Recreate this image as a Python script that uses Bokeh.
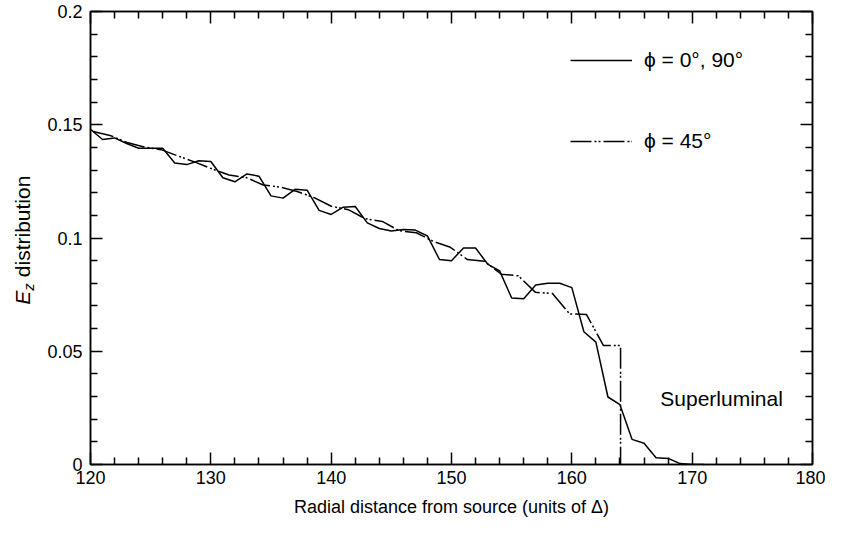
from bokeh.plotting import figure
from bokeh.layouts import row
from bokeh.models import (Range1d, LinearAxis, FixedTicker, CustomJSTickFormatter,
                          Label, Legend, LegendItem)
from bokeh.core.properties import value
from bokeh.embed import file_html
from bokeh.resources import INLINE

# ---- data ----
r_axis = [120, 121, 122, 123, 124, 125, 126, 127, 128, 129, 130, 131, 132, 133, 134,
          135, 136, 137, 138, 139, 140, 141, 142, 143, 144, 145, 146, 147, 148, 149,
          150, 151, 152, 153, 154, 155, 156, 157, 158, 159, 160, 161, 162, 163, 164,
          165, 166, 167, 168, 169, 170, 171]
ez_axis = [0.1480, 0.1435, 0.1442, 0.1417, 0.1396, 0.1396, 0.1396, 0.1331, 0.1324, 0.1341,
           0.1338, 0.1266, 0.1248, 0.1283, 0.1273, 0.1186, 0.1176, 0.1215, 0.1211, 0.1122,
           0.1104, 0.1136, 0.1139, 0.1067, 0.1042, 0.1031, 0.1038, 0.1035, 0.1009, 0.0905,
           0.0900, 0.0956, 0.0956, 0.0885, 0.0855, 0.0735, 0.0732, 0.0792, 0.0800, 0.0800,
           0.0781, 0.0586, 0.0540, 0.0298, 0.0264, 0.0111, 0.0094, 0.0030, 0.0027, 0.0004,
           0.0, 0.0]

r_diag = [120.21, 121.62, 123.04, 124.45, 125.87, 127.28, 128.69, 130.11, 131.52, 132.94,
          134.35, 135.76, 137.18, 138.59, 140.01, 141.42, 142.84, 144.25, 145.66, 147.08,
          148.49, 149.91, 151.32, 152.74, 154.15, 155.56, 156.98, 158.39, 159.81, 161.22,
          162.63, 164.05, 164.05]
ez_diag = [0.1470, 0.1453, 0.1422, 0.1402, 0.1390, 0.1362, 0.1335, 0.1305, 0.1278, 0.1267,
           0.1234, 0.1225, 0.1205, 0.1178, 0.1140, 0.1125, 0.1085, 0.1073, 0.1032, 0.1023,
           0.0985, 0.0959, 0.0905, 0.0897, 0.0840, 0.0833, 0.0760, 0.0755, 0.0665, 0.0662,
           0.0525, 0.0525, 0.0]

x_ticks = [120, 130, 140, 150, 160, 170, 180]
x_minor = [122, 124, 126, 128, 132, 134, 136, 138, 142, 144, 146, 148, 152, 154, 156, 158,
           162, 164, 166, 168, 172, 174, 176, 178]
y_ticks = [0, 0.05, 0.1, 0.15, 0.2]
y_minor = [0.01, 0.02, 0.03, 0.04, 0.06, 0.07, 0.08, 0.09, 0.11, 0.12, 0.13, 0.14,
           0.16, 0.17, 0.18, 0.19]
series_labels = ["ϕ = 0°, 90°", "ϕ = 45°"]
x_title = "Radial distance from source (units of Δ)"
y_title_parts = ["E", "z", "distribution"]
note_text = "Superluminal"

FONT = "Liberation Sans"
FS = "18px"
FS_BIG = "21px"
H = 523
Y_RANGE = (0, 0.2)

# ---- narrow strip holding the rotated y-axis title (frame aligned with main plot) ----
lab = figure(width=40, height=H, output_backend="svg", toolbar_location=None,
             x_range=Range1d(0, 40), y_range=Range1d(*Y_RANGE),
             x_axis_location=None, y_axis_location=None, min_border=0)
lab.grid.visible = False
lab.outline_line_color = None
ang = 1.5707963
lab.text(x=[22], y=[0.0705], text=[y_title_parts[0]], angle=ang, text_font=value(FONT),
         text_font_size="21px", text_font_style="italic", text_baseline="middle",
         text_align="left", text_color="black")
lab.text(x=[27.5], y=[0.0767], text=[y_title_parts[1]], angle=ang, text_font=value(FONT),
         text_font_size="15px", text_font_style="italic", text_baseline="middle",
         text_align="left", text_color="black")
lab.text(x=[22], y=[0.0827], text=[y_title_parts[2]], angle=ang, text_font=value(FONT),
         text_font_size="21px", text_baseline="middle", text_align="left",
         text_color="black")

# ---- main plot ----
p = figure(width=785, height=H, output_backend="svg", toolbar_location=None,
           x_range=Range1d(120, 180), y_range=Range1d(*Y_RANGE),
           x_axis_location=None, y_axis_location=None,
           min_border_left=50, min_border_right=13, min_border_top=11, min_border_bottom=59)
p.grid.visible = False
p.outline_line_color = "black"
p.outline_line_width = 1.5

xt = FixedTicker(ticks=x_ticks, minor_ticks=x_minor)
yt = FixedTicker(ticks=y_ticks, minor_ticks=y_minor)
fmt = CustomJSTickFormatter(code="return String(+tick.toFixed(2));")
blank = CustomJSTickFormatter(code="return '';")


def style(ax, labels=True):
    ax.axis_line_color = "black"
    ax.axis_line_width = 1.5
    ax.major_tick_in = 12
    ax.major_tick_out = 0
    ax.minor_tick_in = 7
    ax.minor_tick_out = 0
    ax.major_tick_line_width = 1.5
    ax.minor_tick_line_width = 1.5
    ax.major_tick_line_color = "black"
    ax.minor_tick_line_color = "black"
    if labels:
        ax.major_label_text_font = FONT
        ax.major_label_text_font_size = FS
        ax.major_label_text_color = "black"
    else:
        ax.major_label_text_font_size = "1px"
        ax.major_label_standoff = 0


bx = LinearAxis(ticker=xt, formatter=fmt, axis_label=x_title)
style(bx)
bx.major_label_standoff = 6
bx.axis_label_standoff = 10
bx.axis_label_text_font = FONT
bx.axis_label_text_font_size = FS
bx.axis_label_text_font_style = "normal"
bx.axis_label_text_color = "black"
p.add_layout(bx, "below")

ly = LinearAxis(ticker=yt, formatter=fmt)
style(ly)
ly.major_label_standoff = 8
p.add_layout(ly, "left")

tx = LinearAxis(ticker=xt, formatter=blank)
style(tx, labels=False)
p.add_layout(tx, "above")
ry = LinearAxis(ticker=yt, formatter=blank)
style(ry, labels=False)
p.add_layout(ry, "right")

l1 = p.line(r_axis, ez_axis, line_color="black", line_width=1.5)
l2 = p.line(r_diag, ez_diag, line_color="black", line_width=1.5,
            line_dash="21 3 2 2 2 3")

legend = Legend(items=[LegendItem(label=series_labels[0], renderers=[l1]),
                       LegendItem(label=series_labels[1], renderers=[l2])],
                location=(480, 311), orientation="vertical",
                glyph_width=62, glyph_height=22, label_height=22, label_standoff=12,
                spacing=57, padding=0, margin=0, border_line_color=None,
                background_fill_alpha=0, label_text_font=FONT,
                label_text_font_size=FS_BIG, label_text_color="black")
p.add_layout(legend)

p.add_layout(Label(x=167.35, y=0.029, text=note_text, text_font=FONT,
                   text_font_size=FS_BIG, text_baseline="middle", text_align="left",
                   text_color="black"))

layout = row(lab, p)
open("out.html", "w").write(file_html(layout, INLINE))
